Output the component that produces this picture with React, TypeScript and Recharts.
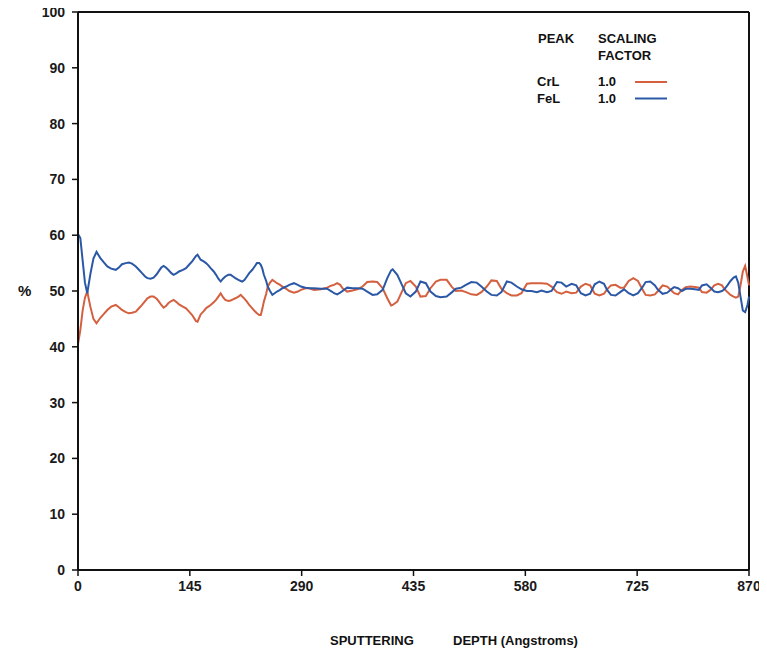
import React from "react";
import { LineChart, Line, XAxis, YAxis, ReferenceLine } from "recharts";

// Sputtering depth (Angstroms)
const depth = [
  0, 3, 6, 9, 12, 16, 20, 24, 29, 33, 38, 43, 49, 53, 57, 62, 66, 70, 75, 79,
  83, 87, 90, 94, 98, 102, 105, 108, 111, 114, 117, 121, 124, 128, 131, 136, 140, 144, 148, 153,
  155, 159, 163, 166, 169, 172, 176, 179, 182, 185, 188, 191, 195, 198, 201, 204, 208, 211, 213, 216,
  219, 222, 226, 229, 232, 235, 237, 239, 241, 244, 246, 249, 252, 255, 258, 262, 265, 270, 274, 280,
  285, 289, 295, 300, 306, 315, 323, 329, 332, 336, 340, 343, 349, 356, 362, 369, 375, 382, 388, 395,
  401, 406, 408, 414, 420, 425, 431, 438, 444, 451, 457, 464, 470, 478, 485, 490, 497, 503, 510, 517,
  523, 530, 536, 543, 549, 556, 562, 569, 575, 582, 588, 595, 601, 608, 614, 621, 627, 633, 640, 646,
  652, 658, 664, 670, 676, 682, 686, 691, 697, 703, 708, 714, 720, 726, 731, 736, 742, 748, 752, 758,
  764, 770, 773, 778, 783, 788, 794, 800, 805, 809, 815, 820, 825, 830, 835, 838, 842, 846, 850, 853,
  856, 859, 862, 865, 868, 870,
];

// CrL atomic %
const crl = [
  40.5, 43.0, 46.5, 48.8, 49.9, 47.2, 45.0, 44.2, 45.2, 45.8, 46.6, 47.2, 47.5, 47.1, 46.6, 46.2, 46.0, 46.1, 46.3, 46.9,
  47.5, 48.2, 48.7, 49.0, 49.0, 48.6, 48.1, 47.5, 47.0, 47.3, 47.8, 48.2, 48.4, 48.0, 47.6, 47.2, 46.9, 46.3, 45.7, 44.6,
  44.5, 45.8, 46.4, 46.9, 47.2, 47.5, 48.0, 48.4, 49.0, 49.6, 48.9, 48.4, 48.2, 48.3, 48.5, 48.7, 49.0, 49.3, 49.0, 48.6,
  48.1, 47.5, 46.9, 46.4, 46.0, 45.7, 45.7, 46.8, 48.1, 49.5, 50.8, 51.5, 52.0, 51.7, 51.4, 51.1, 50.8, 50.4, 50.0, 49.7,
  49.9, 50.2, 50.5, 50.5, 50.2, 50.3, 50.6, 51.0, 51.1, 51.4, 51.1, 50.5, 49.9, 50.1, 50.3, 50.8, 51.6, 51.7, 51.6, 50.5,
  48.7, 47.4, 47.5, 48.1, 49.9, 51.4, 51.8, 50.8, 49.0, 49.1, 50.5, 51.7, 52.0, 52.0, 50.7, 50.0, 50.1, 49.8, 49.4, 49.3,
  49.8, 50.8, 51.9, 51.8, 50.4, 49.6, 49.2, 49.2, 49.6, 51.3, 51.4, 51.4, 51.4, 51.3, 50.8, 49.8, 49.5, 49.9, 49.6, 49.7,
  50.8, 51.3, 51.0, 49.5, 49.2, 49.5, 50.3, 51.0, 51.1, 50.6, 50.6, 51.8, 52.3, 51.8, 50.5, 49.3, 49.2, 49.4, 50.0, 51.0,
  50.8, 50.0, 49.6, 49.4, 50.2, 50.7, 50.8, 50.7, 50.6, 49.8, 49.7, 50.2, 51.0, 51.3, 51.0, 50.4, 49.8, 49.3, 49.0, 48.8,
  49.0, 51.0, 53.5, 54.5, 52.5, 51.0,
];

// FeL atomic %
const fel = [
  60.2, 59.5, 55.5, 51.5, 49.6, 53.0, 55.8, 57.0, 55.9, 55.2, 54.4, 54.0, 53.8, 54.2, 54.8, 55.0, 55.1, 54.9, 54.4, 53.8,
  53.2, 52.6, 52.3, 52.2, 52.4, 53.0, 53.6, 54.2, 54.5, 54.2, 53.8, 53.2, 52.9, 53.2, 53.5, 53.8, 54.1, 54.7, 55.3, 56.3,
  56.5, 55.6, 55.3, 55.0, 54.6, 54.1, 53.5, 52.9, 52.2, 51.7, 52.2, 52.6, 52.9, 52.9, 52.6, 52.3, 52.0, 51.8, 51.7, 52.0,
  52.6, 53.2, 53.8, 54.4, 55.0, 55.0, 54.7, 54.0, 52.9, 51.8, 50.8, 50.0, 49.3, 49.6, 49.9, 50.2, 50.5, 50.8, 51.1, 51.4,
  51.1, 50.8, 50.6, 50.5, 50.5, 50.4, 50.4, 49.9, 49.6, 49.4, 49.7, 50.0, 50.6, 50.5, 50.5, 50.4, 49.9, 49.3, 49.4, 50.2,
  52.3, 53.7, 53.9, 52.9, 51.1, 49.6, 49.0, 49.9, 51.7, 51.4, 49.9, 49.1, 48.9, 49.0, 49.8, 50.4, 50.6, 51.1, 51.6, 51.5,
  50.8, 49.9, 49.3, 49.2, 49.8, 51.7, 51.5, 50.8, 50.3, 50.0, 50.0, 49.8, 50.1, 49.8, 50.0, 51.6, 51.5, 50.8, 51.3, 51.0,
  49.6, 49.2, 49.5, 51.2, 51.7, 51.3, 50.2, 49.3, 49.2, 49.8, 50.3, 49.6, 49.2, 49.6, 50.5, 51.6, 51.7, 51.0, 50.2, 49.5,
  49.7, 50.4, 50.7, 50.5, 50.0, 50.4, 50.4, 50.3, 50.2, 51.0, 51.2, 50.6, 49.9, 49.8, 50.0, 50.3, 51.0, 51.8, 52.4, 52.6,
  51.5, 49.0, 46.5, 46.2, 47.5, 49.0,
];

const xTicks = [0, 145, 290, 435, 580, 725, 870];
const yTicks = [0, 10, 20, 30, 40, 50, 60, 70, 80, 90, 100];

const peakLabels = ["CrL", "FeL"];
const scaling = ["1.0", "1.0"];
const seriesColors = ["#d4603f", "#2a58a6"];

const data = depth.map((d, i) => ({ depth: d, CrL: crl[i], FeL: fel[i] }));

const FONT = "'Liberation Sans', Arial, Helvetica, sans-serif";
const tickStyle = { fontSize: 14, fontWeight: 700, fill: "#1a1a1a", fontFamily: FONT };

export default function App() {
  return (
    <div style={{ position: "relative", width: 759, height: 654, marginTop: -8 }}>
      <LineChart
        width={759}
        height={654}
        data={data}
        margin={{ top: 12, right: 18, bottom: 54, left: 0 }}
      >
        <XAxis
          dataKey="depth"
          type="number"
          domain={[0, 870]}
          ticks={xTicks}
          interval={0}
          height={30}
          tickSize={6}
          tickMargin={5}
          tick={tickStyle}
          axisLine={{ stroke: "#111", strokeWidth: 2 }}
          tickLine={{ stroke: "#111", strokeWidth: 1.5 }}
        />
        <YAxis
          type="number"
          domain={[0, 100]}
          ticks={yTicks}
          interval={0}
          width={70}
          tickSize={6}
          tickMargin={7}
          tick={tickStyle}
          axisLine={{ stroke: "#111", strokeWidth: 2 }}
          tickLine={{ stroke: "#111", strokeWidth: 1.5 }}
        />
        <ReferenceLine y={100} stroke="#111" strokeWidth={2} ifOverflow="visible" />
        <ReferenceLine x={870} stroke="#111" strokeWidth={2} ifOverflow="visible" />
        <Line
          dataKey="CrL"
          type="linear"
          stroke={seriesColors[0]}
          strokeWidth={2}
          dot={false}
          isAnimationActive={false}
        />
        <Line
          dataKey="FeL"
          type="linear"
          stroke={seriesColors[1]}
          strokeWidth={2}
          dot={false}
          isAnimationActive={false}
        />
      </LineChart>
      <svg
        width={759}
        height={654}
        style={{ position: "absolute", left: 0, top: 0, pointerEvents: "none" }}
        fontFamily={FONT}
      >
        <text x={10} y={296} fontSize={15} fontWeight={700} fill="#111">%</text>
        <text x={322} y={645} fontSize={13} fontWeight={700} fill="#111">SPUTTERING</text>
        <text x={445} y={645} fontSize={13} fontWeight={700} fill="#111">DEPTH (Angstroms)</text>
        <g fontSize={13} fontWeight={700} fill="#111">
          <text x={530} y={43}>PEAK</text>
          <text x={590} y={43}>SCALING</text>
          <text x={590} y={60}>FACTOR</text>
          {peakLabels.map((p, i) => (
            <g key={p}>
              <text x={529} y={86 + i * 17}>{p}</text>
              <text x={590} y={86 + i * 17}>{scaling[i]}</text>
              <line
                x1={627}
                x2={659}
                y1={82 + i * 16.5}
                y2={82 + i * 16.5}
                stroke={seriesColors[i]}
                strokeWidth={2}
              />
            </g>
          ))}
        </g>
      </svg>
    </div>
  );
}
